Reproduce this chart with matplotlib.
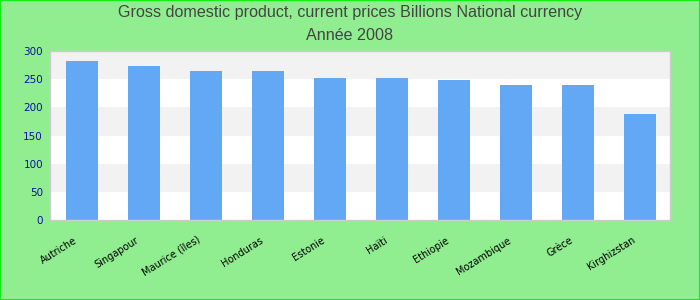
import numpy as np
import matplotlib.pyplot as plt
import matplotlib.transforms as mtransforms
from matplotlib.patches import Rectangle

countries = ["Autriche", "Singapour", "Maurice (îles)", "Honduras", "Estonie",
             "Haïti", "Ethiopie", "Mozambique", "Grèce", "Kirghizstan"]
gdp = [282, 273, 264.5, 264.5, 252, 252, 248.5, 240, 240, 188]
y_ticks = [0, 50, 100, 150, 200, 250, 300]

fig = plt.figure(figsize=(7, 3), dpi=100)
fig.patch.set_facecolor('#90ee90')
fig.patches.append(Rectangle((0, 0), 1, 1, transform=fig.transFigure,
                             fill=False, edgecolor='#11ee11', lw=1.5))

ax = fig.add_axes([50 / 700, 80 / 300, 620 / 700, 169 / 300])
ax.set_facecolor('white')

# alternating bands
for i in range(len(y_ticks) - 1):
    if i % 2 == 1:
        ax.axhspan(y_ticks[i], y_ticks[i + 1], color='#f2f2f2', lw=0, zorder=0)

x = np.arange(len(countries))
ax.bar(x, gdp, width=0.52, color='#62a8f4', zorder=2)

ax.set_xlim(-0.52, len(countries) - 0.52)
ax.set_ylim(0, 300)
ax.set_yticks(y_ticks)
ax.set_yticklabels([str(v) for v in y_ticks], color='#1010a0', fontsize=7.5)
ax.set_xticks(x)
ax.set_xticklabels(countries, rotation=32, ha='right', va='center',
                   rotation_mode='anchor', fontsize=7, color='black')
ax.tick_params(length=0, pad=5)
ax.tick_params(axis='x', pad=14)
shift = mtransforms.ScaledTranslation(-6 / 100, 0, fig.dpi_scale_trans)
for lab in ax.get_xticklabels():
    lab.set_transform(lab.get_transform() + shift)
for s in ax.spines.values():
    s.set_color('#cccccc')
    s.set_linewidth(1)

fig.text(0.5, 1 - 13 / 300, "Gross domestic product, current prices Billions National currency",
         ha='center', va='center', fontsize=11.6, color='#444444', family='Liberation Sans')
fig.text(0.5, 1 - 35 / 300, "Année 2008",
         ha='center', va='center', fontsize=11.6, color='#444444', family='Liberation Sans')

fig.savefig('out.png', dpi=100, facecolor=fig.get_facecolor())
